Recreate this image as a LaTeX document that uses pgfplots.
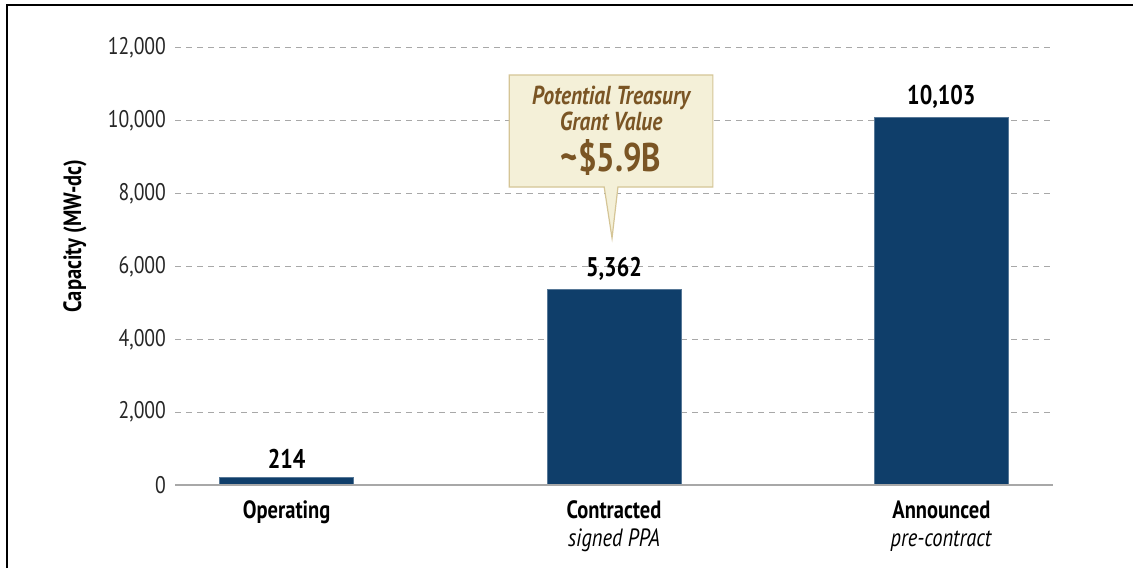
\documentclass[border=0pt]{standalone}
\usepackage{fontspec}
\setmainfont[FakeStretch=0.82]{PT Sans}
\usepackage{pgfplots}
\pgfplotsset{compat=1.18}
\definecolor{barblue}{HTML}{0F3E6A}
\definecolor{callfill}{HTML}{F4F0D8}
\definecolor{calledge}{HTML}{D5C596}
\definecolor{calltext}{HTML}{7A5524}
\definecolor{gridgray}{HTML}{A8A8A8}

\begin{document}
\begin{tikzpicture}[x=1pt,y=1pt]
\useasboundingbox (0,0) rectangle (566.5,284);
\fill[white] (0,0) rectangle (566.5,284);
\draw[black, line width=1.2pt] (3.5,0) -- (3.5,281.5) -- (566.5,281.5);
\begin{axis}[
  at={(87.5pt,41.5pt)}, anchor=south west,
  scale only axis, width=439pt, height=218.5pt,
  ymin=0, ymax=12000, xmin=-0.341, xmax=2.341,
  axis line style={draw=none},
  tick style={draw=none},
  ybar, bar width=67pt,
  ytick={0,2000,...,12000},
  scaled y ticks=false,
  ymajorgrids, grid style={gridgray, dash pattern=on 3pt off 2.5pt, line width=0.5pt},
  /pgf/number format/.cd, fixed, 1000 sep={,}, assume math mode=true, /pgfplots/.cd,
  yticklabel style={font=\fontsize{12}{14}\selectfont, color=black!85, xshift=-1pt},
  xtick={0,1,2},
  xticklabels={{\textbf{Operating}}, {\textbf{Contracted}\\\textit{signed PPA}}, {\textbf{Announced}\\\textit{pre-contract}}},
  xticklabel style={align=center, font=\fontsize{12.5}{14}\selectfont, yshift=0pt},
  nodes near coords,
  every node near coord/.append style={font=\bfseries\fontsize{13.5}{15}\selectfont, color=black, yshift=1pt},
]
\addplot[fill=barblue, draw=barblue!70!white, line width=0.4pt] coordinates {(0,214) (1,5362) (2,10103)};
\draw[gridgray, line width=1pt] (axis cs:-0.341,0) -- (axis cs:2.341,0);
\draw[gridgray, line width=0.6pt] (axis cs:-0.341,0) -- ++(0,-2pt);
\draw[fill=callfill, draw=calledge, line width=0.6pt]
  (axis cs:0.680,11258) -- (axis cs:1.302,11258) -- (axis cs:1.302,8183)
  -- (axis cs:1.012,8183) -- (axis cs:0.994,6782) -- (axis cs:0.970,8183)
  -- (axis cs:0.680,8183) -- cycle;
\node[text=calltext, font=\itshape\bfseries\fontsize{13}{15}\selectfont] at (axis cs:0.991,10620) {Potential Treasury};
\node[text=calltext, font=\itshape\bfseries\fontsize{13}{15}\selectfont] at (axis cs:0.991,9980) {Grant Value};
\node[text=calltext, font=\bfseries\fontsize{20}{22}\selectfont] at (axis cs:0.991,8980) {\textasciitilde\$5.9B};
\end{axis}
\node[rotate=90, font=\bfseries\fontsize{12.5}{14}\selectfont] at (37.5,166) {Capacity (MW-dc)};
\end{tikzpicture}
\end{document}
